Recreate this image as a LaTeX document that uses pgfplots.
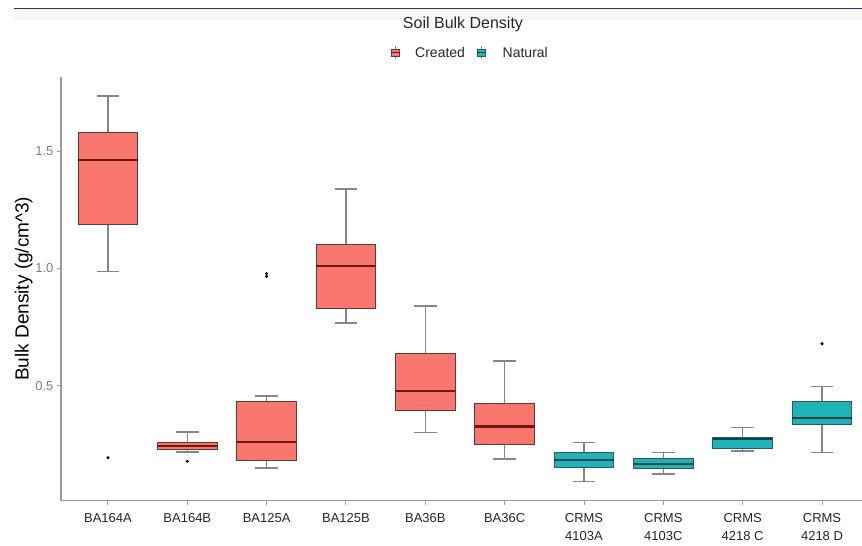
\documentclass[border=0pt]{standalone}
\usepackage{pgfplots}
\pgfplotsset{compat=1.18}
\usepgfplotslibrary{statistics}
\usepackage{fontspec}
\setmainfont{Liberation Sans}
\definecolor{created}{HTML}{F8766D}
\definecolor{natural}{HTML}{1DB3B8}
\definecolor{cborder}{HTML}{5E3B38}
\definecolor{nborder}{HTML}{2F5A5C}
\definecolor{cmed}{HTML}{6E1A14}
\definecolor{nmed}{HTML}{0B4449}
\definecolor{whisk}{HTML}{858585}
\definecolor{axgray}{HTML}{9A9A9A}
\definecolor{topline}{HTML}{3C2C6C}
\pgfplotsset{
  cbox/.style={boxplot/draw direction=y,
               boxplot/every box/.style={draw=cborder, fill=created, line width=1pt},
               boxplot/every whisker/.style={draw=whisk, line width=1.4pt},
               boxplot/every median/.style={draw=cmed, line width=2.2pt},
               mark=*, mark options={black, scale=0.7}, draw=cborder},
  nbox/.style={boxplot/draw direction=y,
               boxplot/every box/.style={draw=nborder, fill=natural, line width=1pt},
               boxplot/every whisker/.style={draw=whisk, line width=1.4pt},
               boxplot/every median/.style={draw=nmed, line width=2.2pt},
               mark=*, mark options={black, scale=0.7}, draw=nborder},
}
\begin{document}
\begin{tikzpicture}
\useasboundingbox (0pt,0pt) rectangle (862pt,546pt);
\fill[topline!4] (14pt,526pt) rectangle (862pt,537pt);
\draw[topline, line width=1.5pt] (14pt,537.5pt) -- (862pt,537.5pt);
\begin{axis}[
  at={(61pt,45.3pt)}, anchor=south west,
  scale only axis, width=801pt, height=423.9pt,
  xmin=0.408, xmax=10.504, ymin=0.011, ymax=1.816,
  axis x line=bottom, axis y line=left,
  axis line style={-, axgray, line width=1.4pt},
  tick style={axgray, line width=1pt},
  tick align=outside, major tick length=4pt,
  xtick={1,...,10},
  xticklabels={BA164A,BA164B,BA125A,BA125B,BA36B,BA36C,CRMS\\4103A,CRMS\\4103C,CRMS\\4218 C,CRMS\\4218 D},
  xticklabel style={align=center, font=\fontsize{13}{18.5}\selectfont, text=black!85, anchor=north, yshift=-5pt},
  ytick={0.5,1.0,1.5},
  yticklabel style={font=\fontsize{13}{13}\selectfont, text=black!50, /pgf/number format/fixed, /pgf/number format/fixed zerofill, /pgf/number format/precision=1, /pgf/number format/assume math mode=true},
  ylabel={Bulk Density (g/cm\textasciicircum 3)},
  every axis y label/.style={at={(axis description cs:-0.0465,0.5)}, rotate=90, anchor=center, font=\fontsize{19}{19}\selectfont},
  clip=false,
]
% BA164A
\addplot[cbox, boxplot prepared={draw position=1, lower whisker=0.986, lower quartile=1.189, median=1.462, upper quartile=1.578, upper whisker=1.734, box extend=0.75, whisker extend=0.286}] coordinates {(1,0.194)};
% BA164B
\addplot[cbox, boxplot prepared={draw position=2, lower whisker=0.219, lower quartile=0.230, median=0.244, upper quartile=0.259, upper whisker=0.304, box extend=0.75, whisker extend=0.286}] coordinates {(2,0.179)};
% BA125A
\addplot[cbox, boxplot prepared={draw position=3, lower whisker=0.151, lower quartile=0.182, median=0.261, upper quartile=0.432, upper whisker=0.457, box extend=0.75, whisker extend=0.286}] coordinates {(3,0.966) (3,0.978)};
% BA125B
\addplot[cbox, boxplot prepared={draw position=4, lower whisker=0.767, lower quartile=0.831, median=1.011, upper quartile=1.101, upper whisker=1.339, box extend=0.75, whisker extend=0.286}] coordinates {};
% BA36B
\addplot[cbox, boxplot prepared={draw position=5, lower whisker=0.301, lower quartile=0.393, median=0.477, upper quartile=0.639, upper whisker=0.840, box extend=0.75, whisker extend=0.286}] coordinates {};
% BA36C
\addplot[cbox, boxplot prepared={draw position=6, lower whisker=0.188, lower quartile=0.250, median=0.327, upper quartile=0.423, upper whisker=0.605, box extend=0.75, whisker extend=0.286}] coordinates {};
% CRMS 4103A
\addplot[nbox, boxplot prepared={draw position=7, lower whisker=0.093, lower quartile=0.151, median=0.183, upper quartile=0.215, upper whisker=0.260, box extend=0.75, whisker extend=0.286}] coordinates {};
% CRMS 4103C
\addplot[nbox, boxplot prepared={draw position=8, lower whisker=0.124, lower quartile=0.149, median=0.168, upper quartile=0.189, upper whisker=0.215, box extend=0.75, whisker extend=0.286}] coordinates {};
% CRMS 4218 C
\addplot[nbox, boxplot prepared={draw position=9, lower whisker=0.223, lower quartile=0.233, median=0.274, upper quartile=0.280, upper whisker=0.323, box extend=0.75, whisker extend=0.286}] coordinates {};
% CRMS 4218 D
\addplot[nbox, boxplot prepared={draw position=10, lower whisker=0.216, lower quartile=0.334, median=0.362, upper quartile=0.432, upper whisker=0.496, box extend=0.75, whisker extend=0.286}] coordinates {(10,0.679)};
\end{axis}
% title
\node[font=\fontsize{16}{16}\selectfont, text=black!85] at (463pt,522pt) {Soil Bulk Density};
% legend
\draw[whisk, line width=0.8pt] (395.5pt,487pt) -- (395.5pt,499.5pt);
\draw[cborder, fill=created, line width=0.6pt] (391.5pt,489.5pt) rectangle (399.5pt,497pt);
\draw[cmed, line width=1pt] (391.5pt,493.3pt) -- (399.5pt,493.3pt);
\node[anchor=west, font=\fontsize{14}{14}\selectfont, text=black!85, inner sep=0pt] at (415pt,493.3pt) {Created};
\draw[whisk, line width=0.8pt] (481pt,487pt) -- (481pt,499.5pt);
\draw[nborder, fill=natural, line width=0.6pt] (477pt,489.5pt) rectangle (485pt,497pt);
\draw[nmed, line width=1pt] (477pt,493.3pt) -- (485pt,493.3pt);
\node[anchor=west, font=\fontsize{14}{14}\selectfont, text=black!85, inner sep=0pt] at (502.5pt,493.3pt) {Natural};
\end{tikzpicture}
\end{document}
